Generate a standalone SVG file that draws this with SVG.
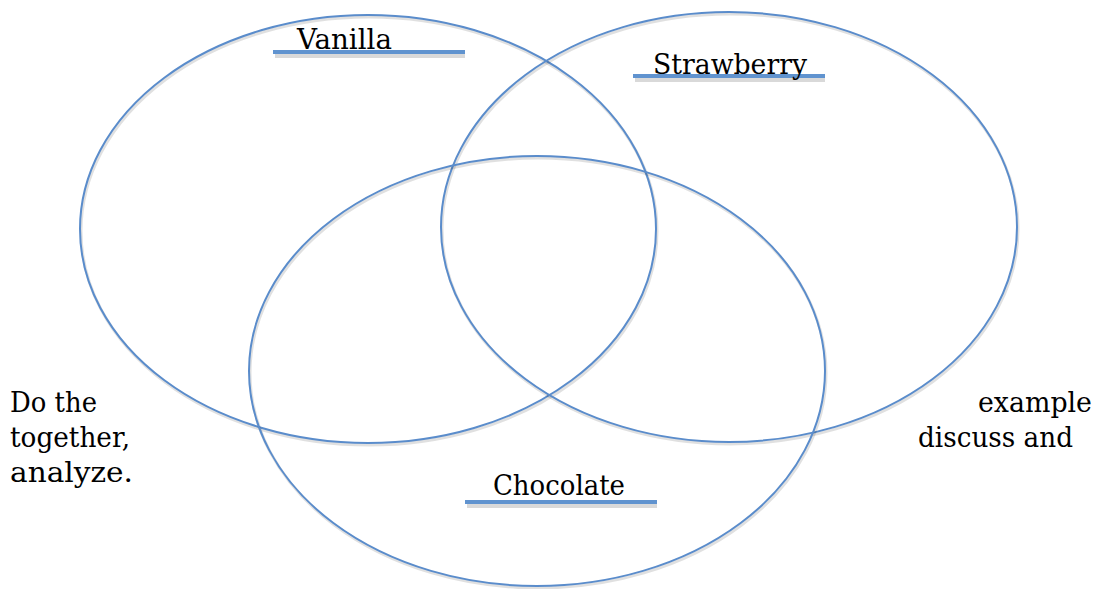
<svg xmlns="http://www.w3.org/2000/svg" width="1097" height="589" viewBox="0 0 1097 589">
<defs>
<style>
.c{fill:none;stroke:#5a8ccb;stroke-width:2}
.cs{fill:none;stroke:#000;stroke-opacity:0.12;stroke-width:3}
.bar{stroke:#6093cf;stroke-width:4}
.bs{stroke:#000;stroke-opacity:0.15;stroke-width:4}
text{font-family:"DejaVu Serif","Liberation Serif",serif;font-size:27px;fill:#000}
</style>
</defs>
<rect width="1097" height="589" fill="#fff"/>
<g id="connectors"></g>
<g id="vanilla">
<ellipse class="cs" cx="369" cy="231" rx="288" ry="214"/>
<ellipse class="c" cx="368" cy="229" rx="288" ry="214"/>
</g>
<g id="strawberry">
<ellipse class="cs" cx="730" cy="229" rx="288" ry="215"/>
<ellipse class="c" cx="729" cy="227" rx="288" ry="215"/>
</g>
<g id="chocolate">
<ellipse class="cs" cx="538" cy="373" rx="288" ry="215"/>
<ellipse class="c" cx="537" cy="371" rx="288" ry="215"/>
</g>
<g id="vanilla-label">
<line class="bs" x1="275" y1="56" x2="465" y2="56"/>
<line class="bar" x1="273" y1="52" x2="465" y2="52"/>
<text x="297" y="49" textLength="95" lengthAdjust="spacingAndGlyphs">Vanilla</text>
</g>
<g id="strawberry-label">
<line class="bs" x1="635" y1="80" x2="825" y2="80"/>
<line class="bar" x1="633" y1="76" x2="825" y2="76"/>
<text x="653" y="74" textLength="154" lengthAdjust="spacingAndGlyphs">Strawberry</text>
</g>
<g id="chocolate-label">
<line class="bs" x1="467" y1="506" x2="657" y2="506"/>
<line class="bar" x1="465" y1="502" x2="657" y2="502"/>
<text x="493" y="495" textLength="132" lengthAdjust="spacingAndGlyphs">Chocolate</text>
</g>
<g id="left-text">
<text x="10" y="412" textLength="87" lengthAdjust="spacingAndGlyphs">Do the</text>
<text x="10" y="447" textLength="120" lengthAdjust="spacingAndGlyphs">together,</text>
<text x="10" y="482" textLength="123" lengthAdjust="spacingAndGlyphs">analyze.</text>
</g>
<g id="right-text">
<text x="978" y="412" textLength="114" lengthAdjust="spacingAndGlyphs">example</text>
<text x="918" y="447" textLength="155" lengthAdjust="spacingAndGlyphs">discuss and</text>
</g>
</svg>
